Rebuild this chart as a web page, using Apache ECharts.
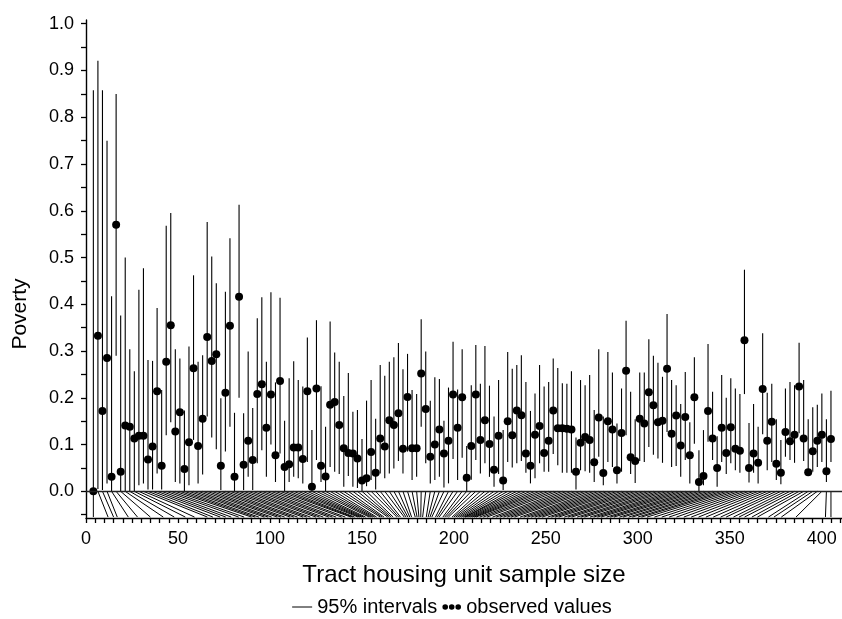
<!DOCTYPE html>
<html><head><meta charset="utf-8">
<script src="https://cdn.jsdelivr.net/npm/echarts@6/dist/echarts.min.js"></script>
<style>html,body{margin:0;padding:0;background:#fff}#c{width:842px;height:619px}</style>
</head><body><div id="c"></div>
<script>
// tract housing unit sample sizes (sorted)
const sampleSizes = [4,12,15,17,23,28,35,42,48,54,59,66,69,73,76,79,83,86,90,92,94,97,99,101,104,106,108,111,113,115,118,120,122,125,127,129,132,134,136,139,141,144,145,146,148,149,150,151,152,154,155,156,157,158,160,161,162,164,165,166,167,169,170,171,173,174,175,176,177,179,180,181,182,183,185,186,187,188,190,191,192,194,195,196,197,199,200,201,202,203,204,205,206,206,207,208,209,210,211,212,214,216,218,221,223,225,227,229,231,233,236,238,240,242,244,246,248,251,253,255,257,260,262,264,267,269,271,274,276,278,280,283,285,287,290,292,295,297,300,302,305,309,313,317,321,325,329,333,337,341,345,348,352,355,358,362,365,371,374,378,386,402,405];
const observed = [0.0,0.333,0.172,0.285,0.031,0.570,0.042,0.141,0.138,0.113,0.119,0.119,0.068,0.096,0.214,0.055,0.277,0.355,0.128,0.169,0.048,0.105,0.263,0.097,0.155,0.330,0.279,0.293,0.055,0.211,0.354,0.031,0.416,0.057,0.108,0.067,0.208,
0.229,0.136,0.207,0.077,0.236,0.052,0.058,0.094,0.094,0.069,0.214,0.010,0.220,0.055,0.032,0.185,0.191,0.142,0.092,0.082,0.081,0.070,0.023,0.028,0.084,0.040,0.113,0.096,0.152,0.142,0.167,0.091,0.202,0.092,0.092,0.252,0.176,0.074,0.100,0.132,0.081,0.108,
0.207,0.136,0.201,0.029,0.097,0.207,0.110,0.152,0.101,0.046,0.119,0.023,0.150,0.120,0.173,0.163,0.081,0.055,0.121,0.140,0.082,0.108,0.173,0.135,0.135,0.134,0.132,0.042,0.104,0.116,0.110,0.062,0.158,0.039,0.150,0.132,0.045,0.125,0.258,0.073,0.065,0.155,
0.145,0.212,0.184,0.148,0.151,0.262,0.123,0.162,0.098,0.159,0.077,0.201,0.020,0.033,0.172,0.113,0.050,0.136,0.082,0.137,0.091,0.087,0.323,0.050,0.081,0.061,0.219,0.108,0.149,0.059,0.040,0.127,0.107,0.121,0.224,0.113,0.041,0.086,0.108,0.121,0.043,0.112];
const lower = [0,0.005,0.003,0.017,0,0.29,0,0,0,0,0.013,0.017,0.004,0.004,0.038,0.004,0.12,0.148,0.02,0.017,0,0.013,0.11,0.017,0.036,0.16,0.115,0.09,0.003,0.085,0.138,0,0.2,0.003,0.031,0.003,0.06,
0.088,0.031,0.1,0.02,0.081,0.001,0.02,0.031,0.028,0.017,0.063,0,0.067,0.02,0,0.052,0.042,0.037,0.01,0.033,0.01,0.007,0,0.011,0.024,0.004,0.038,0.028,0.038,0.049,0.065,0.038,0.085,0.024,0.031,0.138,0.06,0.017,0.024,0.031,0.008,0.017,
0.069,0.024,0.072,0,0.025,0.067,0.038,0.06,0.031,0.01,0.037,0.003,0.063,0.051,0.06,0.065,0.04,0.017,0.028,0.06,0.042,0.042,0.08,0.056,0.04,0.04,0.04,0.004,0.045,0.043,0.04,0.02,0.074,0.013,0.063,0.052,0.017,0.042,0.12,0.037,0.018,0.065,
0.063,0.095,0.078,0.07,0.061,0.127,0.052,0.054,0.031,0.067,0.017,0.102,0.001,0.013,0.106,0.067,0.01,0.063,0.037,0.06,0.045,0.04,0.208,0.019,0.04,0.017,0.122,0.045,0.063,0.024,0.015,0.074,0.067,0.061,0.124,0.065,0.033,0.042,0.052,0.063,0.02,0.063];
const upper = [0.858,0.921,0.858,0.75,0.417,0.85,0.376,0.5,0.304,0.257,0.431,0.477,0.281,0.279,0.392,0.217,0.568,0.595,0.304,0.284,0.173,0.31,0.462,0.277,0.291,0.576,0.502,0.445,0.199,0.427,0.541,0.168,0.613,0.167,0.299,0.178,0.37,
0.415,0.277,0.426,0.233,0.414,0.151,0.242,0.278,0.238,0.224,0.329,0.131,0.366,0.225,0.138,0.363,0.297,0.277,0.204,0.253,0.17,0.174,0.112,0.194,0.238,0.155,0.27,0.247,0.277,0.287,0.317,0.261,0.294,0.217,0.208,0.368,0.299,0.194,0.244,0.24,0.151,0.222,
0.32,0.218,0.304,0.097,0.227,0.313,0.23,0.311,0.226,0.16,0.238,0.131,0.298,0.262,0.27,0.291,0.234,0.172,0.209,0.27,0.224,0.234,0.284,0.264,0.231,0.23,0.257,0.115,0.238,0.227,0.249,0.174,0.304,0.16,0.298,0.254,0.145,0.22,0.365,0.213,0.154,0.254,
0.254,0.325,0.29,0.275,0.245,0.379,0.238,0.227,0.187,0.255,0.148,0.287,0.088,0.131,0.315,0.213,0.118,0.249,0.2,0.242,0.22,0.208,0.474,0.146,0.187,0.138,0.338,0.211,0.23,0.154,0.11,0.22,0.234,0.227,0.318,0.238,0.154,0.18,0.185,0.209,0.154,0.215];
const xTickLabels = [0,50,100,150,200,250,300,350,400];
const xTickMarks = [0,5,10,15,20,25,30,35,40,45,50,55,60,65,70,75,80,85,90,95,100,105,110,115,120,125,130,135,140,145,150,155,160,165,170,175,180,185,190,195,200,205,210,215,220,225,230,235,240,245,250,255,260,265,270,275,280,285,290,295,300,305,310,315,320,325,330,335,340,345,350,355,360,365,370,375,380,385,390,395,400,405,410];
const yTickLabels = [0.0,0.1,0.2,0.3,0.4,0.5,0.6,0.7,0.8,0.9,1.0];
const yTickMarks = [-0.05,0,0.05,0.1,0.15,0.2,0.25,0.3,0.35,0.4,0.45,0.5,0.55,0.6,0.65,0.7,0.75,0.8,0.85,0.9,0.95,1.0];

const FONT = "'Liberation Sans', Arial, Helvetica, sans-serif";
const Y_MIN = -0.057, Y_FAN = -0.055;
const N = sampleSizes.length;
const sMin = Math.min(...sampleSizes), sMax = Math.max(...sampleSizes);
// evenly spaced rank positions between smallest and largest sample size
const rankPos = sampleSizes.map((s, i) => sMin + i * (sMax - sMin) / (N - 1));

const chart = echarts.init(document.getElementById('c'), null, {renderer: 'canvas'});

function lineItem(p1, p2, w) {
  return {type: 'line', shape: {x1: p1[0], y1: p1[1], x2: p2[0], y2: p2[1]},
          style: {stroke: '#000', lineWidth: w}};
}

const option = {
  animation: false,
  backgroundColor: '#fff',
  grid: {left: 86, right: 0, top: 20, bottom: 101, containLabel: false},
  xAxis: {
    type: 'value', min: 0, max: 411,
    name: 'Tract housing unit sample size', nameLocation: 'middle', nameGap: 45,
    nameTextStyle: {fontSize: 24, color: '#000', fontFamily: FONT},
    axisLine: {show: true, onZero: false, lineStyle: {color: '#000', width: 1.4}},
    axisTick: {show: true, length: 5, customValues: xTickMarks, lineStyle: {color: '#000', width: 1.3}},
    axisLabel: {customValues: xTickLabels, margin: 12, fontSize: 18, color: '#000', fontFamily: FONT},
    splitLine: {show: false}
  },
  yAxis: {
    type: 'value', min: Y_MIN, max: 1.008,
    axisLine: {show: true, lineStyle: {color: '#000', width: 1.4}},
    axisTick: {show: true, length: 5, customValues: yTickMarks, lineStyle: {color: '#000', width: 1.3}},
    axisLabel: {customValues: yTickLabels, formatter: v => v.toFixed(1), margin: 12, fontSize: 18, color: '#000', fontFamily: FONT},
    splitLine: {show: false}
  },
  series: [
    {
      type: 'custom', name: '95% intervals', silent: true,
      data: rankPos.map((p, i) => [p, lower[i], upper[i]]),
      encode: {x: 0, y: [1, 2]},
      renderItem: (params, api) => lineItem(api.coord([api.value(0), api.value(1)]), api.coord([api.value(0), api.value(2)]), 1.1)
    },
    {
      type: 'custom', name: 'rank to size', silent: true,
      data: rankPos.map((p, i) => [p, sampleSizes[i]]),
      encode: {x: [0, 1]},
      renderItem: (params, api) => lineItem(api.coord([api.value(0), 0]), api.coord([api.value(1), Y_FAN]), 1)
    },
    {
      type: 'scatter', name: 'observed values', silent: true,
      data: rankPos.map((p, i) => [p, observed[i]]),
      symbol: 'circle', symbolSize: 8,
      itemStyle: {color: '#000', opacity: 1},
      markLine: {silent: true, symbol: 'none', label: {show: false},
        lineStyle: {color: '#222', width: 1.3, type: 'solid', opacity: 1}, data: [{yAxis: 0}]}
    }
  ]
};
chart.setOption(option);

// legend drawn below the axis title
const cv = document.createElement('canvas').getContext('2d');
const LF = 20;
cv.font = LF + 'px ' + FONT;
const t1 = '95% intervals', t2 = 'observed values';
const w1 = cv.measureText(t1).width, w2 = cv.measureText(t2).width;
const lineW = 20, gap = 5, dotsW = 19;
const total = lineW + gap + w1 + gap + dotsW + gap + w2;
const x0 = 452 - total / 2, ly = 607;
const dx = x0 + lineW + gap + w1 + gap;
chart.setOption({graphic: [
  {type: 'line', shape: {x1: x0, y1: ly, x2: x0 + lineW, y2: ly}, style: {stroke: '#000', lineWidth: 1}},
  {type: 'text', x: x0 + lineW + gap, y: ly, style: {text: t1, font: LF + 'px ' + FONT, fill: '#000', verticalAlign: 'middle'}},
  {type: 'circle', shape: {cx: dx + 3, cy: ly, r: 2.8}, style: {fill: '#000'}},
  {type: 'circle', shape: {cx: dx + 9.5, cy: ly, r: 2.8}, style: {fill: '#000'}},
  {type: 'circle', shape: {cx: dx + 16, cy: ly, r: 2.8}, style: {fill: '#000'}},
  {type: 'text', x: dx + dotsW + gap, y: ly, style: {text: t2, font: LF + 'px ' + FONT, fill: '#000', verticalAlign: 'middle'}},
  {type: 'text', x: 20, y: 314, rotation: Math.PI / 2, style: {text: 'Poverty', font: '21px ' + FONT, fill: '#000', align: 'center', verticalAlign: 'middle'}}
]});
</script>
</body></html>
